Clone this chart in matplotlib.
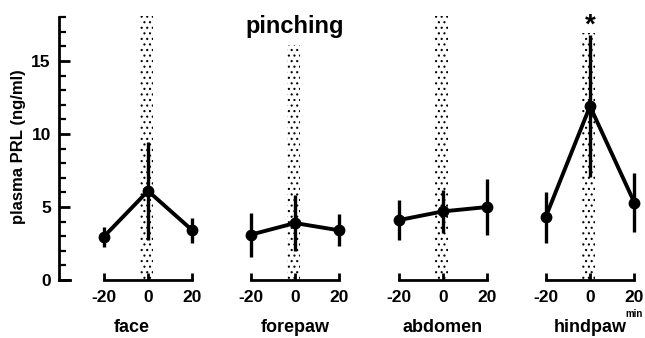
import matplotlib.pyplot as plt

plt.rcParams['font.family'] = ['Liberation Sans', 'DejaVu Sans']
plt.rcParams['font.weight'] = 'bold'
plt.rcParams['axes.labelweight'] = 'bold'
plt.rcParams['axes.titleweight'] = 'bold'
plt.rcParams['hatch.linewidth'] = 0.8

# datos
tiempos = [-20, 0, 20]
zonas = ['face', 'forepaw', 'abdomen', 'hindpaw']
prl_face = [2.95, 6.1, 3.4]
err_face = [0.7, 3.35, 0.85]
prl_forepaw = [3.1, 3.9, 3.4]
err_forepaw = [1.5, 1.9, 1.1]
prl_abdomen = [4.1, 4.7, 5.0]
err_abdomen = [1.35, 1.45, 1.9]
prl_hindpaw = [4.3, 11.9, 5.3]
err_hindpaw = [1.75, 4.85, 2.0]
banda_top = [18.1, 16.1, 18.1, 16.9]

medias = [prl_face, prl_forepaw, prl_abdomen, prl_hindpaw]
errores = [err_face, err_forepaw, err_abdomen, err_hindpaw]

fig = plt.figure(figsize=(6.45, 3.38), dpi=100)
W, H = 645, 338
escala = 2.22  # px por minuto
centros = [148, 295, 443, 590]
y0, y_top = 280, 14
ymax = (y0 - y_top) / 14.6

for i, zona in enumerate(zonas):
    c = centros[i]
    xmin = -40 if i == 0 else -25
    xmax = 25
    left = (c + xmin * escala) / W
    width = (xmax - xmin) * escala / W
    ax = fig.add_axes([left, (H - y0) / H, width, (y0 - y_top) / H])
    ax.set_xlim(xmin, xmax)
    ax.set_ylim(0, ymax)

    # banda punteada del estimulo
    ax.fill_between([-3.5, 2.2], 0, banda_top[i], facecolor='none',
                    edgecolor='black', hatch='...', linewidth=0)

    ax.errorbar(tiempos, medias[i], yerr=errores[i], color='black',
                lw=2.8, elinewidth=2.4, capsize=0, marker='o', ms=7.5,
                zorder=3)

    for s in ['top', 'right']:
        ax.spines[s].set_visible(False)
    ax.spines['bottom'].set_bounds(-20, 20)
    ax.spines['bottom'].set_linewidth(2)
    ax.set_xticks(tiempos)
    ax.set_xticklabels(['-20', '0', '20'], fontsize=12.5)
    ax.tick_params(axis='x', direction='in', length=5, width=2, pad=7)
    ax.set_xlabel(zona, fontsize=13, labelpad=10)

    if i == 0:
        ax.spines['left'].set_bounds(0, 18)
        ax.spines['left'].set_linewidth(2)
        ax.set_yticks([0, 5, 10, 15])
        ax.set_yticks(range(0, 19), minor=True)
        ax.tick_params(axis='y', which='major', direction='in', length=8,
                       width=2, pad=6, labelsize=12.5)
        ax.tick_params(axis='y', which='minor', direction='in', length=5,
                       width=1.6)
        ax.set_ylabel('plasma PRL (ng/ml)', fontsize=12, labelpad=4)
        ax.plot([xmin, xmin + 5], [0, 0], color='black', lw=2,
                clip_on=False)
    else:
        ax.spines['left'].set_visible(False)
        ax.set_yticks([])

    if zona == 'forepaw':
        ax.set_title('pinching', fontsize=17, pad=-14, y=1.0)
    if zona == 'hindpaw':
        ax.text(0, 17.4, '*', fontsize=20, ha='center', va='center')
        ax.text(20, -2.3, 'min', fontsize=7, ha='center', va='center')

fig.savefig('out.png', dpi=100)
